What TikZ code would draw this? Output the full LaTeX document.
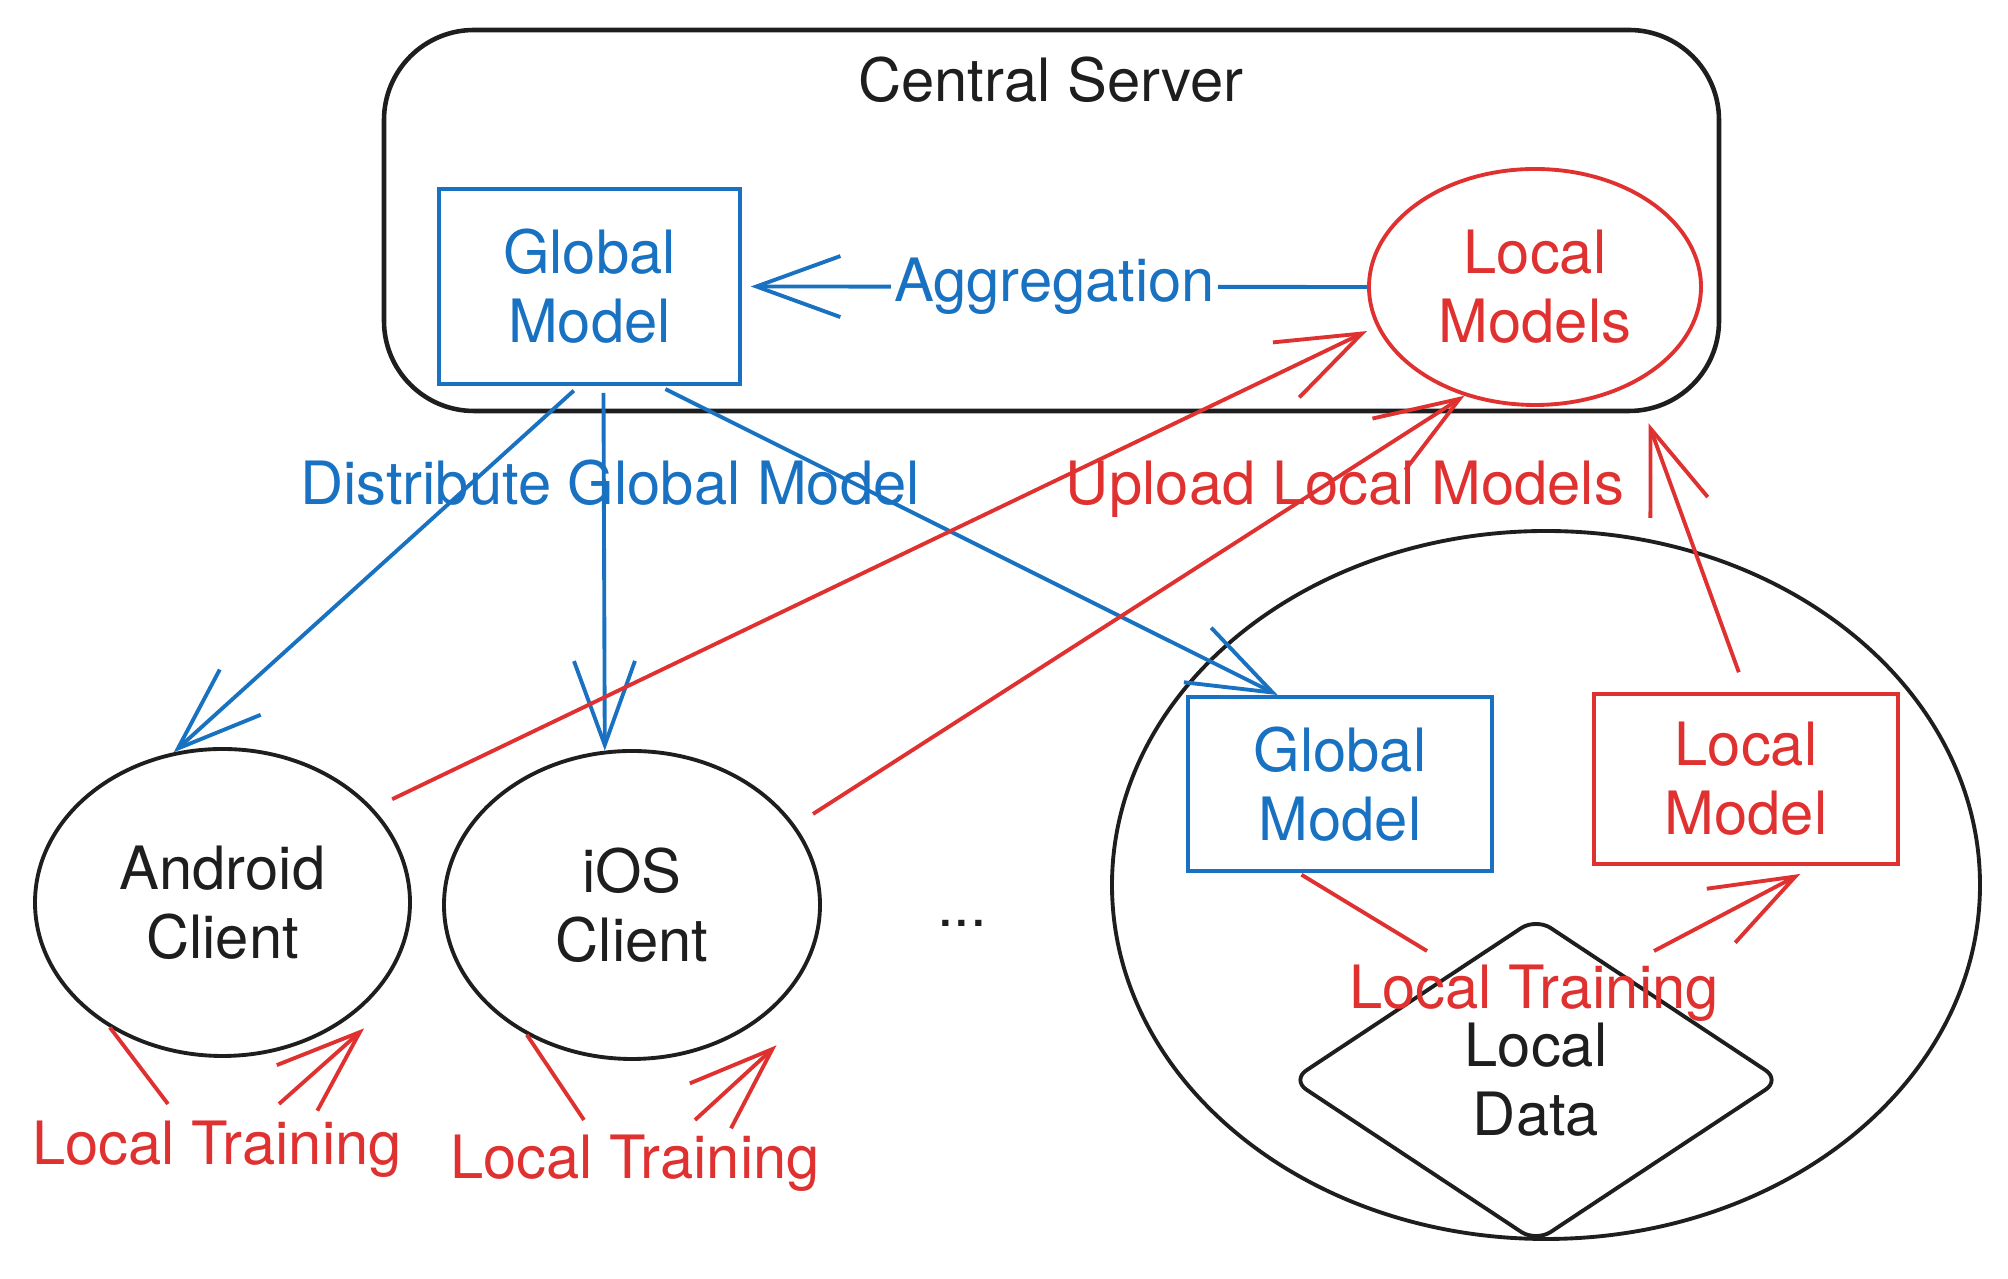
\documentclass[tikz,border=0pt]{standalone}
\usepackage{fontspec}
\setmainfont{TeX Gyre Heros}
\usetikzlibrary{shapes.geometric,arrows.meta}
\definecolor{exblue}{HTML}{1971C2}
\definecolor{exred}{HTML}{E03131}
\definecolor{exink}{HTML}{1E1E1E}
\begin{document}
\begin{tikzpicture}[
			font=\fontsize{17}{19.6}\selectfont,
			line width=1.1pt,
			tip/.style={-{Straight Barb[length=0.84cm,width=0.61cm]}},
			cli/.style={ellipse, draw=exink, text=exink, inner sep=0pt, align=center},
			sq/.style={rectangle, inner sep=0pt, align=center},
			bl/.style={draw=exblue, text=exblue},
			rd/.style={draw=exred, text=exred},
			lbl/.style={inner sep=0pt, align=center}
			]
			\useasboundingbox (0,0) rectangle (20.08,12.79);
			% --- сервер ---
			\node[draw=exink, line width=1.3pt, rounded corners=0.9cm, minimum width=13.35cm, minimum height=3.81cm] (srv) at (10.515,10.585) {};
			\node[lbl, text=exink] (srvt) at (10.51,11.99) {Central Server};
			\node[sq, bl, minimum width=3.01cm, minimum height=1.95cm] (gm) at (5.895,9.925) {Global\\Model};
			\node[cli, rd, minimum width=3.32cm, minimum height=2.36cm] (lms) at (15.35,9.92) {Local\\Models};
			\draw[bl, tip, shorten >=2.5pt] (lms.west) -- node[lbl, fill=white, inner xsep=1pt, inner ysep=2pt, text=exblue] (aggr) {Aggregation} (gm.east);
			% --- клиенты ---
			\node[cli, minimum width=3.75cm, minimum height=3.07cm] (andr) at (2.225,3.765) {Android\\Client};
			\node[cli, minimum width=3.76cm, minimum height=3.08cm] (ios) at (6.32,3.74) {iOS\\Client};
			\node[lbl, text=exink] (dots) at (9.62,3.56) {...};
			% --- клиент 3 ---
			\node[cli, minimum width=8.68cm, minimum height=7.08cm] (dev) at (15.46,3.94) {};
			\node[sq, bl, minimum width=3.04cm, minimum height=1.74cm] (gm2) at (13.40,4.95) {Global\\Model};
			\node[sq, rd, minimum width=3.04cm, minimum height=1.70cm] (lm2) at (17.46,5.00) {Local\\Model};
			\node[diamond, draw=exink, text=exink, rounded corners=5pt, minimum width=4.9cm, minimum height=3.25cm, inner sep=0pt, align=center] (data) at (15.36,1.99) {Local\\Data};
			% --- рассылка ---
			\draw[bl, tip, shorten <=2pt] (gm.264) -- (andr.108);
			\draw[bl, tip, shorten <=2pt] (gm.278) -- (ios.100);
			\draw[bl, tip, shorten <=2pt] (gm.305) -- (gm2.125);
			\node[lbl, text=exblue] (distl) at (6.10,7.965) {Distribute Global Model};
			% --- загрузка ---
			\draw[rd, tip, shorten <=6pt, shorten >=3pt] (andr.32) -- (lms.194);
			\draw[rd, tip, shorten <=6pt] (ios.26) -- (lms.237);
			\draw[rd, tip, shorten <=6pt, shorten >=3pt] (lm2.north) -- (srv.342);
			\node[lbl, text=exred] (upl) at (13.45,7.90) {Upload Local Models};
			% --- локальное обучение ---
			\coordinate (a1) at (1.68,1.75); \coordinate (a2) at (2.79,1.75);
			\draw[rd] (andr.228) -- (a1);
			\draw[rd, tip] (a2) -- ([xshift=0.14cm, yshift=-0.11cm]andr.318);
			\node[lbl, text=exred] (atr) at (2.17,1.295) {Local Training};
			\coordinate (i1) at (5.84,1.59); \coordinate (i2) at (6.95,1.59);
			\draw[rd] (ios.231) -- (i1);
			\draw[rd, tip] (i2) -- ([xshift=0.215cm, yshift=-0.215cm]ios.316);
			\node[lbl, text=exred] (itr) at (6.35,1.155) {Local Training};
			\coordinate (t1) at (14.27,3.28); \coordinate (t2) at (16.54,3.28);
			\draw[rd, shorten <=1pt] (gm2.245) -- (t1);
			\draw[rd, tip] (t2) -- ([yshift=-0.08cm]lm2.302);
			\node[lbl, text=exred] (dtr) at (15.34,2.86) {Local Training};
		\end{tikzpicture}
\end{document}
